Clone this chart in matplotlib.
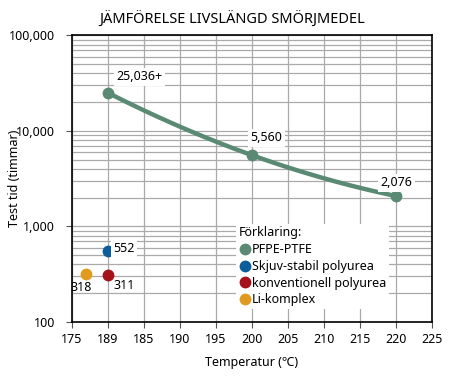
import numpy as np
import matplotlib
matplotlib.use("Agg")
import matplotlib.pyplot as plt
from matplotlib.lines import Line2D

plt.rcParams['font.family'] = ['Noto Sans', 'DejaVu Sans']

# Data
pfpe_x = [180, 200, 220]          # first point drawn at the tick labelled "189"
pfpe_y = [25036, 5560, 2076]
pfpe_labels = ["25,036+", "5,560", "2,076"]
shear_x, shear_y = [180], [552]
conv_x, conv_y = [180], [311]
li_x, li_y = [177], [318]
xticks = [175, 180, 185, 190, 195, 200, 205, 210, 215, 220, 225]
xticklabels = ["175", "189", "185", "190", "195", "200", "205", "210", "215", "220", "225"]
yticks = [100, 1000, 10000, 100000]
yticklabels = ["100", "1,000", "10,000", "100,000"]

c_green = "#5a8a73"
c_blue = "#0b5e9b"
c_red = "#a51219"
c_orange = "#e09a1f"

fs = 9

fig = plt.figure(figsize=(4.52, 3.76), dpi=100)
ax = fig.add_axes([0.159, 0.144, 0.797, 0.762])
ax.set_yscale('log')
ax.set_xlim(175, 225)
ax.set_ylim(100, 100000)

coef = np.polyfit(pfpe_x, np.log10(pfpe_y), 2)
xs = np.linspace(pfpe_x[0], pfpe_x[-1], 200)
ax.plot(xs, 10 ** np.polyval(coef, xs), color=c_green, lw=3.2, zorder=3, solid_capstyle='round')
ax.plot(pfpe_x, pfpe_y, 'o', color=c_green, ms=7.5, zorder=4)
ax.plot(shear_x, shear_y, 'o', color=c_blue, ms=7.5, zorder=4)
ax.plot(conv_x, conv_y, 'o', color=c_red, ms=7.5, zorder=4)
ax.plot(li_x, li_y, 'o', color=c_orange, ms=7.5, zorder=4)

bb = dict(boxstyle='square,pad=0.2', fc='white', ec='none')
ax.annotate(pfpe_labels[0], (pfpe_x[0], pfpe_y[0]), xytext=(6, 7), textcoords='offset points',
            fontsize=fs, ha='left', va='bottom', bbox=bb, zorder=5)
ax.annotate(pfpe_labels[1], (pfpe_x[1], pfpe_y[1]), xytext=(-1, 8), textcoords='offset points',
            fontsize=fs, ha='left', va='bottom', bbox=bb, zorder=5)
ax.annotate(pfpe_labels[2], (pfpe_x[2], pfpe_y[2]), xytext=(0, 5), textcoords='offset points',
            fontsize=fs, ha='center', va='bottom', bbox=bb, zorder=5)
ax.annotate("552", (shear_x[0], shear_y[0]), xytext=(4, 1.5), textcoords='offset points',
            fontsize=fs, ha='left', va='center', bbox=bb, zorder=5)
ax.annotate("311", (conv_x[0], conv_y[0]), xytext=(4, -8), textcoords='offset points',
            fontsize=fs, ha='left', va='center', zorder=5)
ax.annotate("318", (li_x[0], li_y[0]), xytext=(-11, -10), textcoords='offset points',
            fontsize=fs, ha='left', va='center', zorder=5)

ax.set_xticks(xticks)
ax.set_xticklabels(xticklabels, fontsize=fs)
ax.set_yticks(yticks)
ax.set_yticklabels(yticklabels, fontsize=fs)
ax.yaxis.set_minor_locator(matplotlib.ticker.LogLocator(base=10, subs=np.arange(2, 10)))
ax.yaxis.set_minor_formatter(matplotlib.ticker.NullFormatter())
ax.tick_params(axis='y', which='minor', length=0)
ax.tick_params(axis='both', which='major', length=4, width=0.8, color='#555555')
ax.tick_params(axis='y', which='major', pad=8)
ax.tick_params(axis='x', which='major', pad=4)
ax.grid(True, which='major', color='#aaaaaa', lw=0.9)
ax.grid(True, which='minor', axis='y', color='#aaaaaa', lw=0.9)
ax.set_axisbelow(True)
for s in ax.spines.values():
    s.set_linewidth(1.2)
    s.set_color('black')

ax.set_xlabel("Temperatur (℃)", fontsize=fs, labelpad=7)
ax.set_ylabel("Test tid (timmar)", fontsize=fs, va='center')
ax.yaxis.set_label_coords(-0.158, 0.5)
ax.set_title("JÄMFÖRELSE LIVSLÄNGD SMÖRJMEDEL", fontsize=10.5, pad=8, x=0.445, fontweight='medium')

handles = [Line2D([], [], ls='none', marker='o', ms=7.5, color=c) for c in (c_green, c_blue, c_red, c_orange)]
leg = ax.legend(handles, ["PFPE-PTFE", "Skjuv-stabil polyurea", "konventionell polyurea", "Li-komplex"],
                title="Förklaring:", loc='lower right', bbox_to_anchor=(0.88, 0.045),
                fontsize=fs, title_fontsize=fs, frameon=True, fancybox=False,
                handletextpad=0.1, handlelength=1.0, borderpad=0.2, labelspacing=0.3,
                borderaxespad=0)
leg.get_frame().set_edgecolor('none')
leg.get_frame().set_facecolor('white')
leg.get_frame().set_alpha(1)
leg._legend_box.align = 'left'

fig.savefig("out.png", dpi=100)
